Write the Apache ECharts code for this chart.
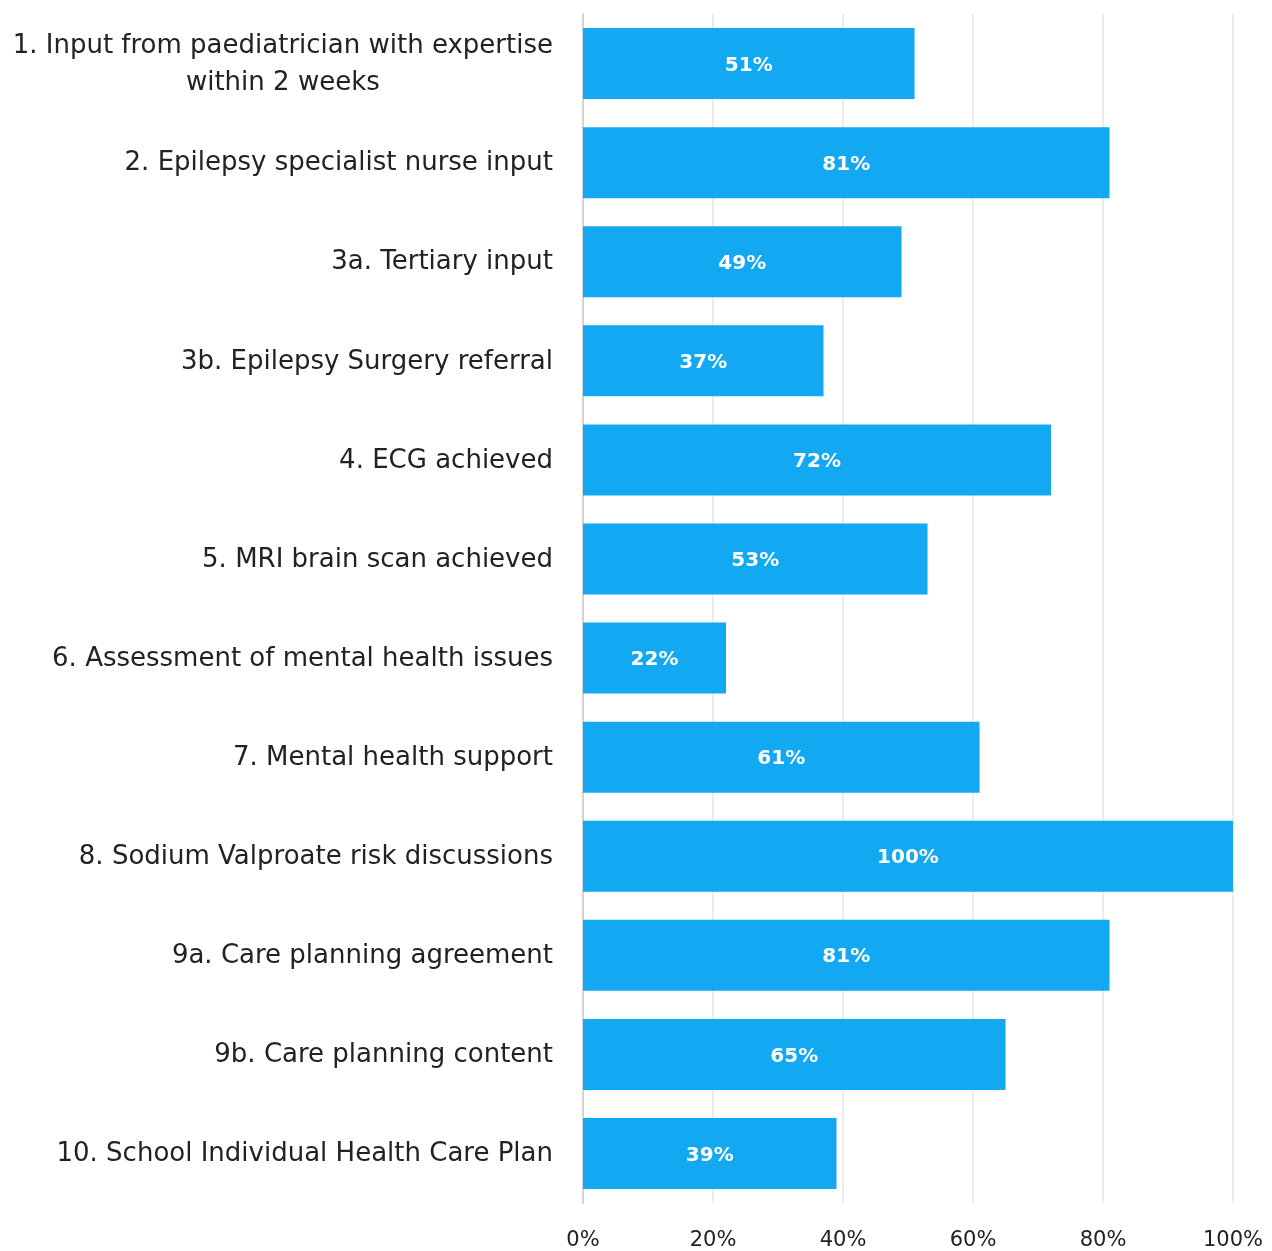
<!DOCTYPE html>
<html>
<head>
<meta charset="utf-8">
<script src="https://cdn.jsdelivr.net/npm/echarts@6/dist/echarts.min.js"></script>
<style>
  html, body { margin: 0; padding: 0; background: #ffffff; }
  #chart { width: 1272px; height: 1251px; }
</style>
</head>
<body>
<div id="chart"></div>
<script>
// Standards of care: share of cases meeting each measure (%)
const categories = [
  '1. Input from paediatrician with expertise\nwithin 2 weeks',
  '2. Epilepsy specialist nurse input',
  '3a. Tertiary input',
  '3b. Epilepsy Surgery referral',
  '4. ECG achieved',
  '5. MRI brain scan achieved',
  '6. Assessment of mental health issues',
  '7. Mental health support',
  '8. Sodium Valproate risk discussions',
  '9a. Care planning agreement',
  '9b. Care planning content',
  '10. School Individual Health Care Plan'
];
const values = [51, 81, 49, 37, 72, 53, 22, 61, 100, 81, 65, 39];
const xTicks = [0, 20, 40, 60, 80, 100];

const FONT = '"DejaVu Sans", sans-serif';
const chart = echarts.init(document.getElementById('chart'), null, { renderer: 'canvas' });

chart.setOption({
  animation: false,
  backgroundColor: '#ffffff',
  grid: { left: 583, right: 39, top: 14, bottom: 48, containLabel: false },
  xAxis: {
    type: 'value',
    min: xTicks[0],
    max: xTicks[xTicks.length - 1],
    interval: xTicks[1] - xTicks[0],
    axisLine: { show: false },
    axisTick: { show: false },
    splitLine: { show: true, lineStyle: { color: '#ececec', width: 2 } },
    axisLabel: {
      formatter: v => v + '%',
      color: '#222222',
      fontFamily: FONT,
      fontSize: 21,
      margin: 27
    }
  },
  yAxis: {
    type: 'category',
    inverse: true,
    data: categories,
    axisLine: { show: true, lineStyle: { color: '#d4d4d4', width: 2 } },
    axisTick: { show: false },
    axisLabel: {
      margin: 30,
      color: '#222222',
      fontFamily: FONT,
      fontSize: 26,
      formatter: v => v.split('\n').map(s => '{c|' + s + '}').join('\n'),
      rich: {
        c: { align: 'center', fontFamily: FONT, fontSize: 26, color: '#222222', lineHeight: 37, padding: [2, 0, 0, 0] }
      }
    }
  },
  series: [{
    type: 'bar',
    data: values,
    barWidth: 71,
    itemStyle: { color: '#12a8f2' },
    label: {
      show: true,
      position: 'inside',
      offset: [0, 2],
      formatter: p => p.value + '%',
      color: '#ffffff',
      fontFamily: FONT,
      fontWeight: 'bold',
      fontSize: 20
    }
  }]
});
</script>
</body>
</html>
